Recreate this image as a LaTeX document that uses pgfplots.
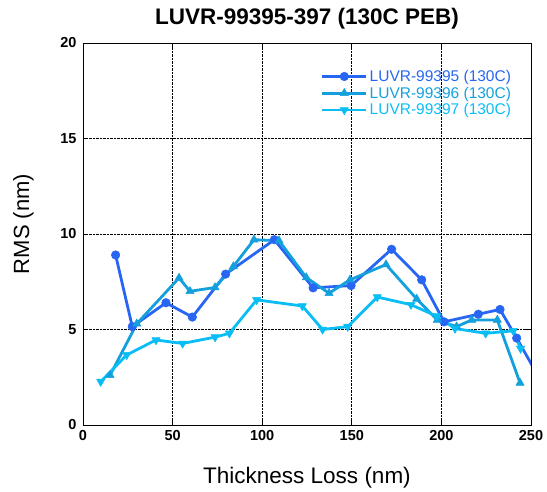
\documentclass[border=0pt]{standalone}
\usepackage{pgfplots}
\pgfplotsset{compat=1.18}
\usepackage{fontspec}
\setmainfont{Liberation Sans}

\definecolor{cA}{RGB}{38,102,242}
\definecolor{cB}{RGB}{20,160,220}
\definecolor{cC}{RGB}{10,190,245}

\begin{document}
\begin{tikzpicture}
\useasboundingbox (-83pt,-67pt) rectangle (464pt,425pt);
\begin{axis}[
  scale only axis,
  width=448pt, height=382pt,
  xmin=0, xmax=250, ymin=0, ymax=20,
  xtick={0,50,...,250}, ytick={0,5,...,20},
  grid=major,
  major grid style={black, densely dotted, line width=0.6pt},
  axis line style={black, line width=0.7pt},
  tick align=inside, major tick length=5pt,
  tick style={black, line width=0.7pt},
  /pgf/number format/assume math mode=true,
  ticklabel style={font=\fontsize{14.5}{16}\selectfont\bfseries},
  yticklabel style={xshift=-3pt},
  xticklabel style={yshift=-2pt},
  every axis title shift=0pt,
  title={LUVR-99395-397 (130C PEB)},
  title style={font=\fontsize{22.5}{26}\selectfont\bfseries, at={(axis description cs:0.5,1)}, anchor=base, yshift=18pt, inner sep=0pt},
  xlabel={Thickness Loss (nm)},
  ylabel={RMS (nm)},
  xlabel style={font=\fontsize{22.5}{26}\selectfont, at={(axis description cs:0.5,-0.139)}, anchor=center},
  ylabel style={font=\fontsize{22}{26}\selectfont, at={(axis description cs:-0.133,0.526)}, anchor=center, rotate=0},
  legend style={at={(0.967,0.94)}, anchor=north east, draw=none, fill=none,
    font=\fontsize{15.5}{17}\selectfont, row sep=0pt, cells={anchor=west}},
  legend image code/.code={\draw[mark repeat=2,mark phase=2] plot coordinates {(0pt,0pt)(22pt,0pt)(44pt,0pt)};},
  every axis plot/.append style={line width=2.8pt, line join=round},
]
\addplot[cA, mark=*, mark size=4.3pt, mark options={solid, line width=0.5pt}] coordinates {
  (18.2,8.9) (27.5,5.15) (46.3,6.4) (61,5.65) (79.6,7.9) (106.8,9.7) (128.4,7.18)
  (149.6,7.3) (172.2,9.2) (189,7.6) (201.5,5.4) (220.6,5.8) (232.7,6.05) (242,4.55) (255,2.4)
};
\addlegendentry{\textcolor{cA}{LUVR-99395 (130C)}}
\addplot[cB, mark=triangle*, mark size=4.8pt, mark options={solid, line width=0.5pt}] coordinates {
  (15.1,2.6) (30,5.3) (53.6,7.7) (59.7,7.0) (73.7,7.2) (83.9,8.3) (95.4,9.7) (109.4,9.65)
  (124.6,7.72) (137.3,6.9) (149,7.6) (169.1,8.4) (186.2,6.6) (197.7,5.5) (208.5,5.15)
  (216.9,5.5) (231.2,5.5) (243.9,2.2)
};
\addlegendentry{\textcolor{cB}{LUVR-99396 (130C)}}
\addplot[cC, mark=triangle*, mark size=4.8pt, mark options={solid, line width=0.5pt, rotate=180}] coordinates {
  (9.9,2.27) (24.4,3.67) (40.7,4.45) (55.6,4.27) (73.7,4.6) (81.7,4.8) (96.9,6.55) (122.4,6.23)
  (133.7,5.0) (147.7,5.15) (164.2,6.7) (183,6.3) (197.3,5.7) (207.6,5.05) (224.7,4.8)
  (240.1,4.93) (244.2,4.0)
};
\addlegendentry{\textcolor{cC}{LUVR-99397 (130C)}}
\end{axis}
\end{tikzpicture}
\end{document}
